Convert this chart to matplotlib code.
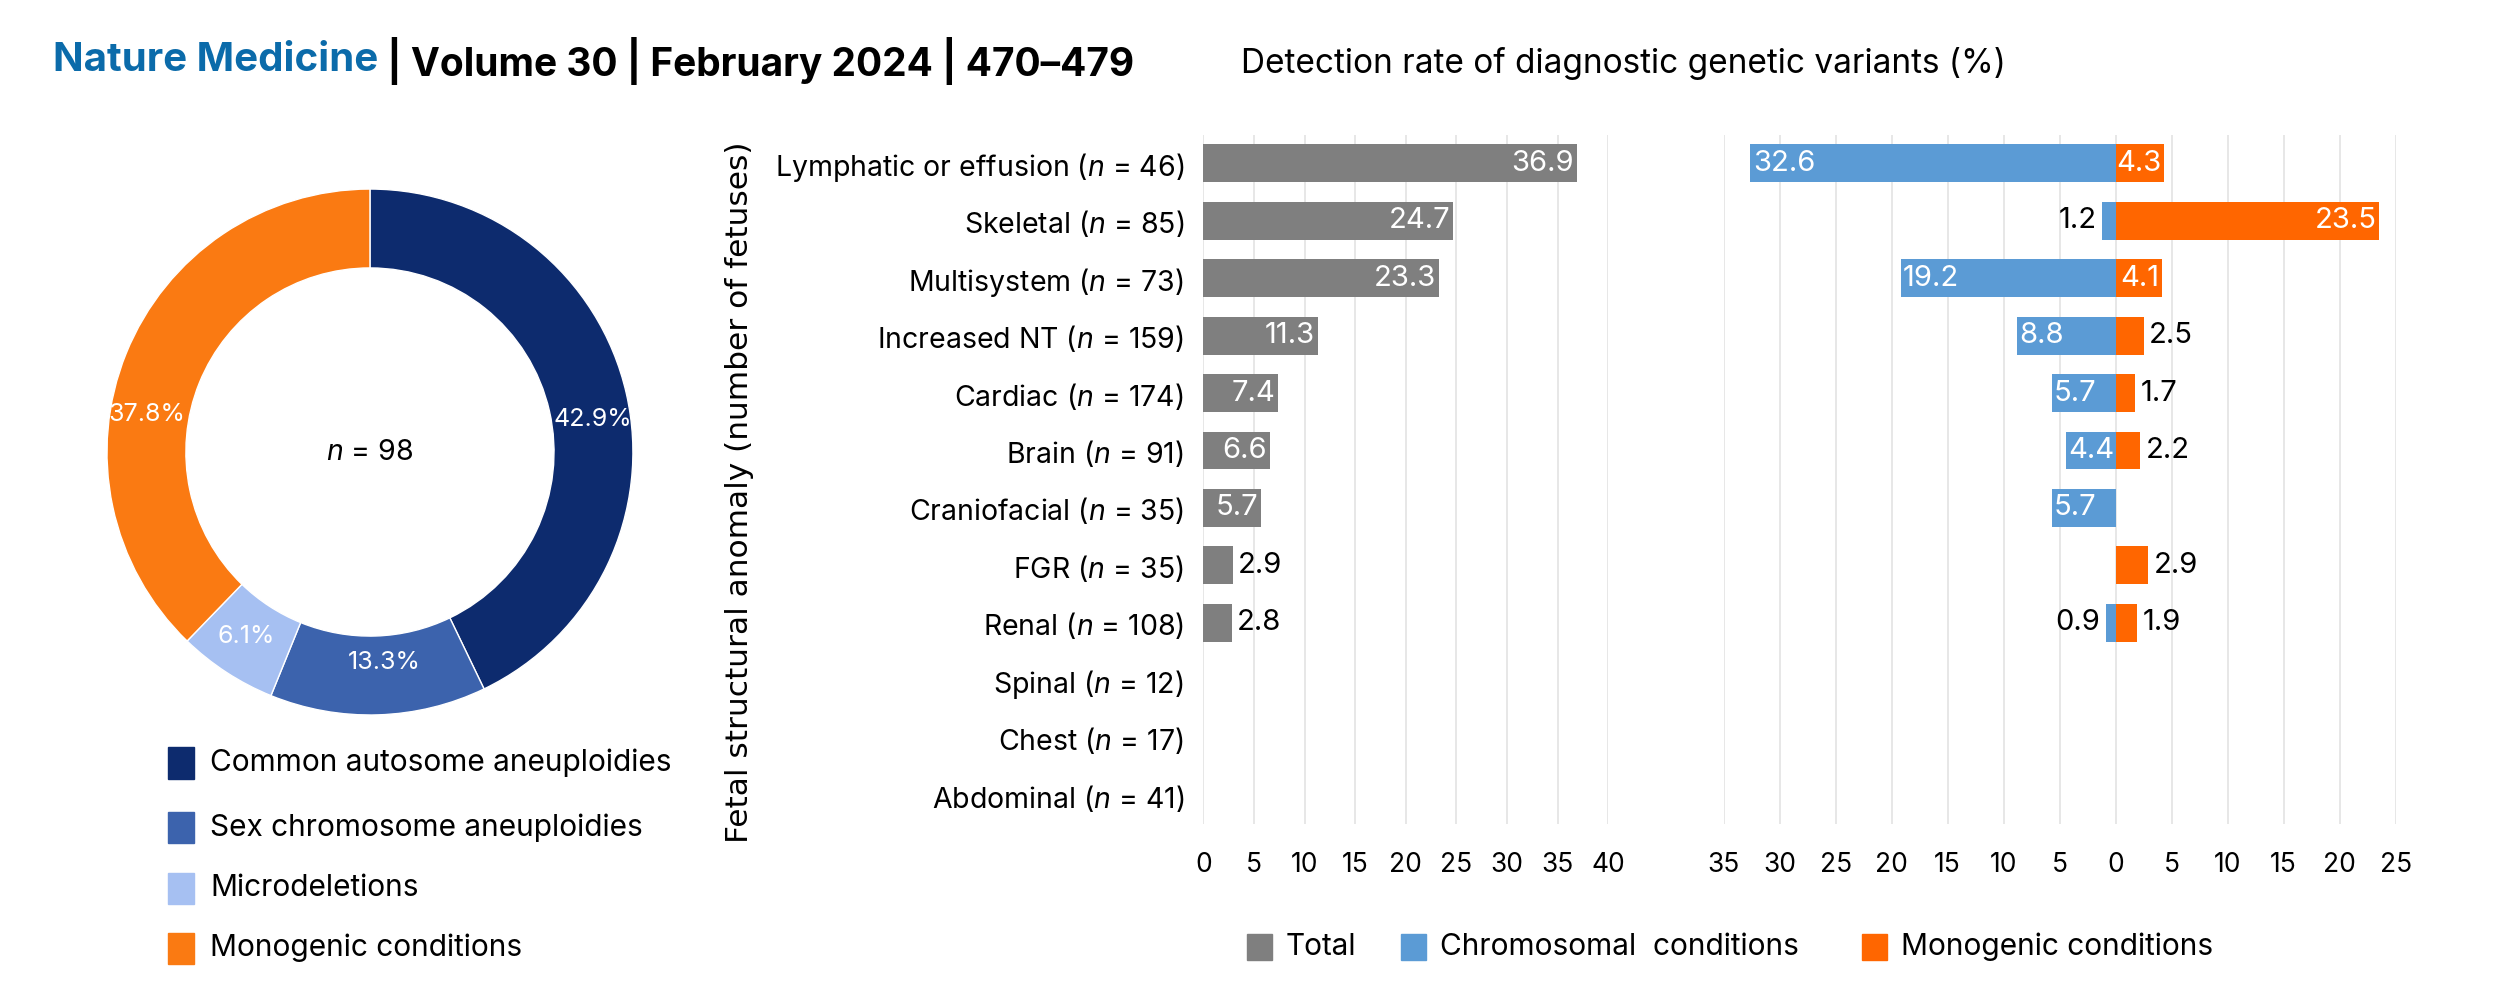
import numpy as np
import matplotlib
matplotlib.use("Agg")
import matplotlib.pyplot as plt
from matplotlib.patches import Rectangle

plt.rcParams['font.family'] = ['Inter', 'DejaVu Sans']
plt.rcParams['mathtext.fontset'] = 'custom'
plt.rcParams['mathtext.it'] = 'Inter:italic'
plt.rcParams['mathtext.rm'] = 'Inter'

# donut data
donut_labels = ['Common autosome aneuploidies', 'Sex chromosome aneuploidies',
                'Microdeletions', 'Monogenic conditions']
donut_pct = [42.9, 13.3, 6.1, 37.8]
donut_n = 98

# bar data
categories = ['Lymphatic or effusion', 'Skeletal', 'Multisystem', 'Increased NT',
              'Cardiac', 'Brain', 'Craniofacial', 'FGR', 'Renal', 'Spinal',
              'Chest', 'Abdominal']
n_fetuses = [46, 85, 73, 159, 174, 91, 35, 35, 108, 12, 17, 41]
total = [36.9, 24.7, 23.3, 11.3, 7.4, 6.6, 5.7, 2.9, 2.8, 0, 0, 0]
chromosomal = [32.6, 1.2, 19.2, 8.8, 5.7, 4.4, 5.7, 0, 0.9, 0, 0, 0]
monogenic = [4.3, 23.5, 4.1, 2.5, 1.7, 2.2, 0, 2.9, 1.9, 0, 0, 0]

donut_colors = ['#0D2B6E', '#3C63AD', '#A6C0F2', '#FA7A12']
c_total = '#7F7F7F'
c_chrom = '#5B9BD5'
c_mono = '#FF6600'
grid_c = '#E3E3E3'
fs_lab = 20.5
fs_val = 21
fs_tick = 19
fs_leg = 21.5

fig = plt.figure(figsize=(25.14, 9.82), dpi=100)

# ---- title
t1 = fig.text(0.021, 0.938, 'Nature Medicine', color='#0B6BAA', fontsize=29,
              fontweight='bold', va='center', ha='left')
fig.canvas.draw()
r = fig.canvas.get_renderer()
bb = t1.get_window_extent(r)
x2 = bb.x1 / fig.bbox.width
fig.text(x2, 0.938, ' | Volume 30 | February 2024 | 470\u2013479', color='black',
         fontsize=28, fontweight='bold', va='center', ha='left')

fig.text(0.4935, 0.935, 'Detection rate of diagnostic genetic variants (%)',
         fontsize=24, va='center', ha='left')

# ---- donut
axd = fig.add_axes([0.04256, 0.2719, 0.2092, 0.5356])
wedges, _, autotexts = axd.pie(donut_pct, colors=donut_colors, startangle=90,
                               counterclock=False, radius=1,
                               autopct='%1.1f%%', pctdistance=0.85,
                               wedgeprops=dict(width=0.30, edgecolor='white', linewidth=1),
                               textprops=dict(color='white', fontsize=18))
# label spots as in the original layout
for t, pos in zip(autotexts, [(0.848, 0.125), (0.053, -0.80), (-0.47, -0.70), (-0.848, 0.144)]):
    t.set_position(pos)
axd.set_xlim(-1, 1)
axd.set_ylim(-1, 1)
axd.set_aspect('equal')
axd.text(0, 0, '$n$ = %d' % donut_n, ha='center', va='center', fontsize=20.5)

# donut legend
leg_y = [0.223, 0.157, 0.0957, 0.0346]
for lab, col, yy in zip(donut_labels, donut_colors, leg_y):
    fig.patches.append(Rectangle((0.0668, yy - 0.0158), 0.0103, 0.0316, color=col,
                                 transform=fig.transFigure, figure=fig))
    fig.text(0.0835, yy, lab, fontsize=fs_leg, va='center', ha='left')

# ---- bars
y = np.arange(len(categories))
bh = 0.66
ylabels = ['%s ($n$ = %d)' % (c, n) for c, n in zip(categories, n_fetuses)]

axl = fig.add_axes([0.4787, 0.161, 0.1610, 0.702])
axl.barh(y, total, height=bh, color=c_total, zorder=3)
axl.set_xlim(0, 40)
axl.set_ylim(len(categories) - 0.5, -0.5)
axl.set_xticks(np.arange(0, 41, 5))
axl.set_yticks(y)
axl.set_yticklabels(ylabels, fontsize=fs_lab)
for v, yy in zip(total, y):
    if v == 0:
        continue
    if v >= 4:
        axl.text(v - 0.3, yy, '%.1f' % v, color='white', ha='right', va='center',
                 fontsize=fs_val, zorder=4)
    else:
        axl.text(v + 0.5, yy, '%.1f' % v, color='black', ha='left', va='center',
                 fontsize=fs_val, zorder=4)

axr = fig.add_axes([0.6856, 0.161, 0.2673, 0.702])
axr.barh(y, [-v for v in chromosomal], height=bh, color=c_chrom, zorder=3)
axr.barh(y, monogenic, height=bh, color=c_mono, zorder=3)
axr.set_xlim(-35, 25)
axr.set_ylim(len(categories) - 0.5, -0.5)
ticks = np.arange(-35, 26, 5)
axr.set_xticks(ticks)
axr.set_xticklabels([str(abs(t)) for t in ticks])
axr.set_yticks([])
for v, yy in zip(chromosomal, y):
    if v == 0:
        continue
    if v >= 4:
        axr.text(-v + 0.2, yy, '%.1f' % v, color='white', ha='left', va='center',
                 fontsize=fs_val, zorder=4)
    else:
        axr.text(-v - 0.5, yy, '%.1f' % v, color='black', ha='right', va='center',
                 fontsize=fs_val, zorder=4)
for v, yy in zip(monogenic, y):
    if v == 0:
        continue
    if v >= 4:
        axr.text(v - 0.2, yy, '%.1f' % v, color='white', ha='right', va='center',
                 fontsize=fs_val, zorder=4)
    else:
        axr.text(v + 0.5, yy, '%.1f' % v, color='black', ha='left', va='center',
                 fontsize=fs_val, zorder=4)

for ax in (axl, axr):
    for s in ax.spines.values():
        s.set_visible(False)
    ax.tick_params(axis='both', length=0)
    ax.tick_params(axis='x', pad=20, labelsize=fs_tick)
    ax.tick_params(axis='y', pad=14)
    ax.xaxis.grid(True, color=grid_c, linewidth=1.2, zorder=0)
    ax.set_axisbelow(True)

fig.text(0.294, 0.499, 'Fetal structural anomaly (number of fetuses)', rotation=90,
         fontsize=22.5, ha='center', va='center', family='DejaVu Sans')

# bottom legend
bl = [(0.496, 'Total', c_total), (0.5573, 'Chromosomal  conditions', c_chrom),
      (0.7407, 'Monogenic conditions', c_mono)]
for xx, lab, col in bl:
    fig.patches.append(Rectangle((xx, 0.0229), 0.0099, 0.0255, color=col,
                                 transform=fig.transFigure, figure=fig))
    fig.text(xx + 0.0155, 0.0356, lab, fontsize=fs_leg, va='center', ha='left')

fig.savefig('out.png', dpi=100)
